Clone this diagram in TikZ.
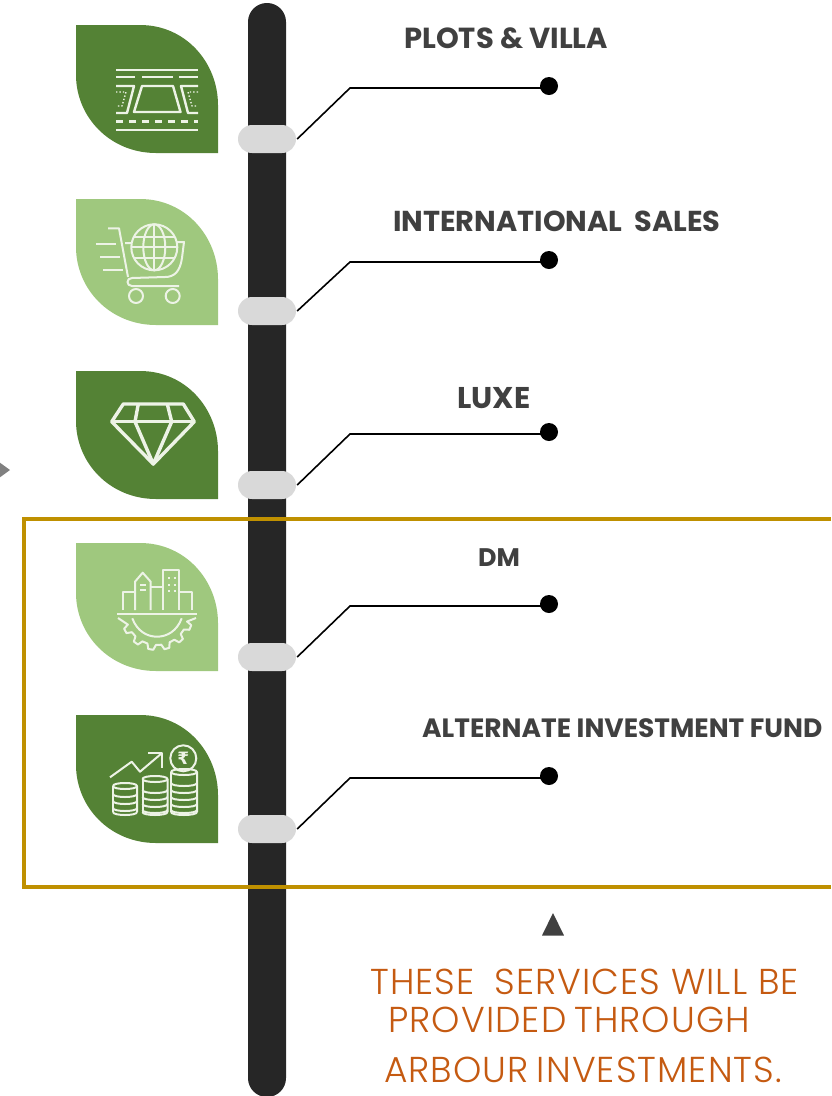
\documentclass[tikz,border=0pt]{standalone}
\usepackage{fontspec}
\setmainfont{Poppins}
\newfontfamily\lightfont[LetterSpace=3]{Poppins Light}
\newfontfamily\rupeefont{DejaVu Sans}
\usetikzlibrary{shapes.misc}

\definecolor{leafdark}{HTML}{548235}
\definecolor{leaflight}{HTML}{9FC87E}
\definecolor{barcol}{HTML}{262626}
\definecolor{pillcol}{HTML}{D9D9D9}
\definecolor{goldcol}{HTML}{BF9000}
\definecolor{labelcol}{HTML}{404040}
\definecolor{notecol}{HTML}{C55A11}
\definecolor{iconcol}{HTML}{EDF3E6}

\tikzset{
    pill/.style={rounded rectangle,fill=pillcol,minimum width=58pt,minimum height=28pt,inner sep=0pt},
    dot/.style={circle,fill=black,minimum size=18pt,inner sep=0pt},
    elbow/.style={line width=1.6pt,black},
    heading/.style={anchor=west,inner sep=0pt,text=labelcol,font=\fontsize{#1}{#1}\selectfont\bfseries},
    note/.style={anchor=west,inner sep=0pt,text=notecol,font=\fontsize{36}{36}\selectfont\lightfont},
    icon/.style={draw=iconcol,line width=2.4pt,line join=round},
    thinicon/.style={draw=iconcol,line width=2pt,line join=round}
}

\newcommand{\leaf}[3]{% top, bottom, colour
    \fill[#3] (76,#1) -- (140,#1) .. controls (186,#1) and (218,#1+38) .. (218,#1+80)
        -- (218,#2) -- (156,#2) .. controls (110,#2) and (76,#2-36) .. (76,#2-78) -- cycle;
}

\begin{document}
\begin{tikzpicture}[x=1pt,y=-1pt]

\useasboundingbox (0,0) rectangle (831,1096);
\clip (0,0) rectangle (831,1096);

% bar
\fill[barcol,rounded corners=18.9pt] (248,3) rectangle (286,1097);

% leaves
\leaf{25}{153}{leafdark}
\leaf{199}{325}{leaflight}
\leaf{371}{499}{leafdark}
\leaf{543}{671}{leaflight}
\leaf{715}{843}{leafdark}

% plots icon
\draw[icon] (116,70) -- (198,70) (116,130) -- (198,130);
\draw[icon] (116,77) -- (135,77) (142,77) -- (173,77) (179,77) -- (198,77);
\draw[icon,line width=3pt,dash pattern=on 7pt off 6pt] (116,121) -- (198,121);
\draw[icon] (142,86) -- (173,86) -- (180.5,112) -- (134,112) -- cycle;
\draw[icon] (116,86) -- (134,86) -- (127,113) -- (116,113);
\draw[icon] (198,86) -- (181,86) -- (188,113) -- (198,113);
\draw[thinicon,line width=1.4pt,dotted] (116,92) -- (126,92) -- (122,106) -- (116,106);
\draw[thinicon,line width=1.4pt,dotted] (198,92) -- (188,92) -- (192,106) -- (198,106);

% cart icon
\draw[thinicon] (154.3,247.3) circle (23);
\draw[thinicon] (154.3,247.3) ellipse (11 and 23);
\draw[thinicon] (154.3,224.3) -- (154.3,270.3) (131.3,247.3) -- (177.3,247.3);
\draw[thinicon] (134,237) -- (174.6,237) (134,257.6) -- (174.6,257.6);
\draw[thinicon] (108,228.3) -- (119,228.3) -- (128,277);
\draw[thinicon] (125,243) -- (131,243) (177,242) -- (184,242) -- (182,258) .. controls (180,272) and (174,277) .. (165,277) -- (132,278);
\draw[thinicon] (179,286) -- (132,286) .. controls (126,286) and (126,278) .. (132,278);
\draw[thinicon] (136,296) circle (7) (172.7,296) circle (7);
\draw[thinicon] (96,244.3) -- (116,244.3) (100,257) -- (120,257) (103,270) -- (123,270);

% diamond icon
\draw[icon,line width=3.4pt] (123.3,404) -- (183.3,404) -- (194.3,421.7) -- (153.3,464) -- (111.7,421.7) -- cycle;
\draw[icon,line width=3.4pt] (111.7,421.7) -- (194.3,421.7);
\draw[icon,line width=3.4pt] (138.3,404) -- (135,421.7) -- (153.3,464) -- (171.7,421.7) -- (167.3,404);

% city icon
\draw[thinicon] (117.3,614.3) -- (196.7,614.3);
\draw[thinicon] (122.7,610) -- (122.7,591.7) -- (135,591.7);
\draw[thinicon] (135,610) -- (135,581.7) -- (142.7,572.7) -- (150.7,581.7) -- (150.7,610);
\draw[thinicon] (150.7,586.7) -- (162.7,586.7);
\draw[thinicon] (162.7,610) -- (162.7,570) -- (179.3,570) -- (179.3,610);
\draw[thinicon] (179.3,591.7) -- (191.7,591.7) -- (191.7,610);
\draw[thinicon] (140,585) -- (146,585) (140,590) -- (146,590);
\foreach \y in {578.3,585,591}
    \draw[thinicon] (168,\y) -- (170,\y) (173.5,\y) -- (175.5,\y);
\draw[thinicon] (132.3,618.3) .. controls (137,631) and (147,636.7) .. (157,636.7) .. controls (167,636.7) and (177,631) .. (181.7,618.3);
\draw[thinicon] (196,618) \foreach \a in {14,40,66,92,118,144} {
    -- ([shift={(157,614)}]\a:31) -- ([shift={(157,614)}]\a+4:36) -- ([shift={(157,614)}]\a+12:36) -- ([shift={(157,614)}]\a+16:31)
} -- (118,618);

% coins icon
\draw[thinicon] (183.3,758.3) circle (13);
\node[inner sep=0pt,text=iconcol,font=\fontsize{17}{17}\selectfont\rupeefont\bfseries] (rupee) at (183.3,758.3) {₹};
\draw[thinicon] (110,777.3) -- (131.7,761.7) -- (140,771.7) -- (161.7,753.3);
\draw[thinicon] (148,752.5) -- (161.7,752.5) -- (161.7,768);
\foreach \cx/\rx/\ys in {125/12/{786,794,801,808},155/12.5/{779,790,797,804,810},184/13/{772,783,790,797,804,810}}{
    \draw[thinicon] (\cx-\rx,812) .. controls (\cx-\rx,816) and (\cx+\rx,816) .. (\cx+\rx,812);
    \foreach \y [count=\n] in \ys {
        \draw[thinicon] (\cx-\rx,\y) .. controls (\cx-\rx,\y+4) and (\cx+\rx,\y+4) .. (\cx+\rx,\y);
        \ifnum\n=1
            \draw[thinicon] (\cx-\rx,\y) .. controls (\cx-\rx,\y-4) and (\cx+\rx,\y-4) .. (\cx+\rx,\y) -- (\cx+\rx,812);
            \draw[thinicon] (\cx-\rx,\y) -- (\cx-\rx,812);
        \fi
    }
}

% frame
\draw[goldcol,line width=4pt] (831,519) -- (24,519) -- (24,887) -- (831,887);

% pills
\node[pill] (pill1) at (267,139) {};
\node[pill] (pill2) at (267,311) {};
\node[pill] (pill3) at (267,485) {};
\node[pill] (pill4) at (267,657) {};
\node[pill] (pill5) at (267,829) {};

% dots
\node[dot] (dot1) at (549,86) {};
\node[dot] (dot2) at (549,260) {};
\node[dot] (dot3) at (549,432) {};
\node[dot] (dot4) at (549,604) {};
\node[dot] (dot5) at (549,776) {};

% elbows
\foreach \i/\k in {1/88,2/262,3/434,4/606,5/778}
    \draw[elbow] ([xshift=1pt]pill\i.east) -- (350,\k) -- (dot\i.center |- 0,\k);

% labels
\node[heading=29] (plots) at (404,38) {PLOTS \& VILLA};
\node[heading=28.8] (sales) at (393,221) {INTERNATIONAL\ \ SALES};
\node[heading=30] (luxe) at (457,398) {LUXE};
\node[heading=25.4] (dm) at (478,558) {DM};
\node[heading=26.5] (fund) at (422,728) {ALTERNATE INVESTMENT FUND};

% note
\fill[labelcol] (553,913) -- (564,935.5) -- (542,935.5) -- cycle;
\node[note] (note1) at (370,982) {THESE\hspace{9pt} SERVICES WILL BE};
\node[note] (note2) at (388,1020) {PROVIDED\hspace{-3pt} THROUGH};
\node[note] (note3) at (384,1070) {ARBOUR\hspace{-3pt} INVESTMENTS.};

% side tip
\fill[gray] (-1,462) -- (10,470) -- (-1,478) -- cycle;

\end{tikzpicture}
\end{document}
